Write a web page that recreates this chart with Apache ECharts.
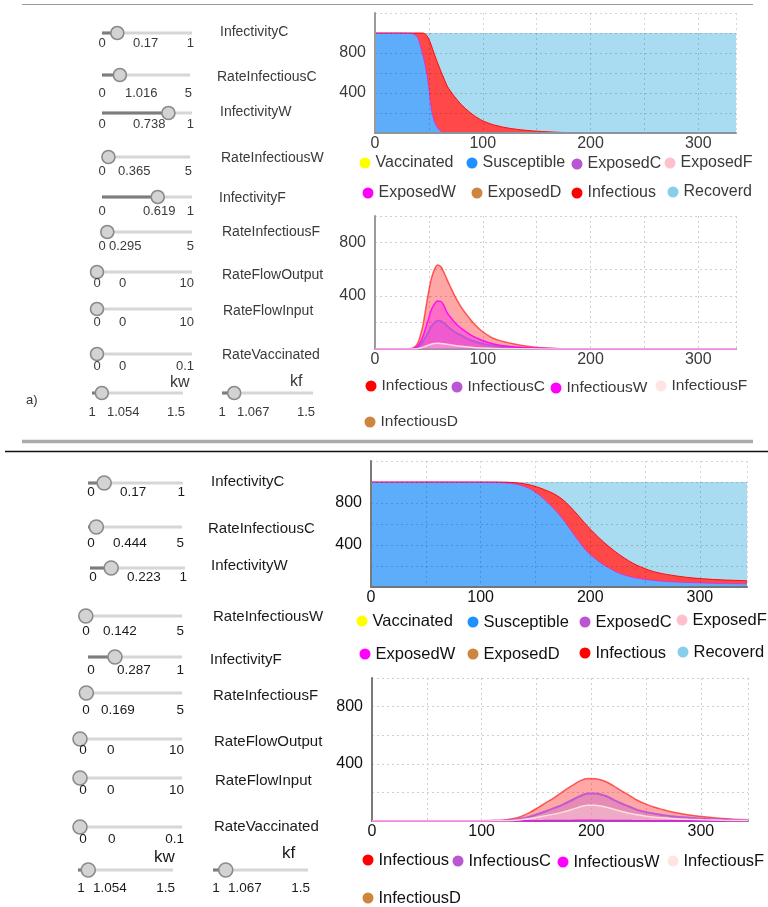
<!DOCTYPE html>
<html>
<head>
<meta charset="utf-8">
<script src="https://cdn.jsdelivr.net/npm/echarts@6/dist/echarts.min.js"></script>
<style>
html,body{margin:0;padding:0;background:#fff;}
#c{width:768px;height:907px;}
</style>
</head>
<body>
<div id="c"></div>
<script>
// ---------------- DATA ----------------
const sliderNames = ['InfectivityC','RateInfectiousC','InfectivityW','RateInfectiousW','InfectivityF','RateInfectiousF','RateFlowOutput','RateFlowInput','RateVaccinated','kw','kf'];
const sliderMin = [0,0,0,0,0,0,0,0,0,1,1];
const sliderMax = [1,5,1,5,1,5,10,10,0.1,1.5,1.5];
const sliderValueTop = [0.17,1.016,0.738,0.365,0.619,0.295,0,0,0,1.054,1.067];
const sliderValueBottom = [0.17,0.444,0.223,0.142,0.287,0.169,0,0,0,1.054,1.067];

const stateNames = ['Vaccinated','Susceptible','ExposedC','ExposedF','ExposedW','ExposedD','Infectious','Recoverd'];
const infNames = ['Infectious','InfectiousC','InfectiousW','InfectiousF','InfectiousD'];
const xTickLabels = [0,100,200,300];
const yTickLabels = [400,800];

// top panel (a)
const topDays = [0,20,30,34,38,40,42,44,46,48,50,52,55,58,61,64,67,70,74,80,89,98,110,126,145,166,180,200,250,300,335];
const topVaccinated = [0,0,0,0,0,0,0,0,0,0,0,0,0,0,0,0,0,0,0,0,0,0,0,0,0,0,0,0,0,0,0];
const topSusceptible = [1000,1000,999,995,975,945,875,795,705,595,445,255,117,52,20,8,5,4,3,3,2,2,2,1,1,1,1,1,1,1,1];
const topExposedC = [0,0,0,0,0,0,0,0,0,0,0,0,0,0,0,0,0,0,0,0,0,0,0,0,0,0,0,0,0,0,0];
const topExposedF = [0,0,0,0,0,0,0,0,0,0,0,0,0,0,0,0,0,0,0,0,0,0,0,0,0,0,0,0,0,0,0];
const topExposedW = [0,0,0,0,0,0,0,0,0,0,0,0,0,0,0,0,0,0,0,0,0,0,0,0,0,0,0,0,0,0,0];
const topExposedD = [0,0,0,0,0,0,0,0,0,0,0,0,0,0,0,0,0,0,0,0,0,0,0,0,0,0,0,0,0,0,0];
const topInfectiousBand = [0,0,1,5,25,55,125,205,290,380,493,630,673,653,602,537,465,416,359,282,196,131,80,44,21,8,3,1,0,0,0];
const topRecoverd = [0,0,0,0,0,0,0,0,5,25,62,115,210,295,378,455,530,580,638,715,802,867,918,955,978,991,996,998,999,999,999];

const topInfectious = [0,0,0,2,25,50,100,160,250,350,440,520,595,632,620,575,520,468,400,315,218,143,80,43,17,4,2,1,0,0,0];
const topInfectiousC = [0,0,0,1,7,14,28,50,75,105,135,165,195,212,210,195,172,152,128,102,66,43,24,11,4,1,0,0,0,0,0];
const topInfectiousW = [0,0,0,1,12,25,50,85,130,185,235,290,335,360,358,325,272,240,200,155,105,70,38,18,7,2,1,0,0,0,0];
const topInfectiousF = [0,0,0,0,2,4,8,12,18,24,30,36,41,43,42,39,35,31,26,20,13,8,4,2,1,0,0,0,0,0,0];
const topInfectiousD = [0,0,0,0,0,0,0,0,0,0,0,0,0,0,0,0,0,0,0,0,0,0,0,0,0,0,0,0,0,0,0];

// bottom panel
const bottomDays = [0,50,100,110,120,128,136,144,151,158,166,174,182,190,197,204,212,220,227,235,242,250,258,266,273,288,303,320,343];
const bottomVaccinated = [0,0,0,0,0,0,0,0,0,0,0,0,0,0,0,0,0,0,0,0,0,0,0,0,0,0,0,0,0];
const bottomSusceptible = [1000,1000,999,997,993,985,970,940,895,835,755,660,545,430,338,275,212,165,128,103,85,72,62,55,50,43,38,33,30];
const bottomExposedC = [0,0,0,0,0,0,0,0,0,0,0,0,0,0,0,0,0,0,0,0,0,0,0,0,0,0,0,0,0];
const bottomExposedF = [0,0,0,0,0,0,0,0,0,0,0,0,0,0,0,0,0,0,0,0,0,0,0,0,0,0,0,0,0];
const bottomExposedW = [0,0,0,0,0,0,0,0,0,0,0,0,0,0,0,0,0,0,0,0,0,0,0,0,0,0,0,0,0];
const bottomExposedD = [0,0,0,0,0,0,0,0,0,0,0,0,0,0,0,0,0,0,0,0,0,0,0,0,0,0,0,0,0];
const bottomInfectiousBand = [0,0,1,3,6,11,18,35,60,93,137,180,217,240,247,235,218,195,177,147,125,103,84,72,64,49,40,35,30];
const bottomRecoverd = [0,0,0,0,1,4,12,25,45,72,108,160,238,330,415,490,570,640,695,750,790,825,854,873,886,908,922,932,940];

const bottomInfectious = [0,0,1,3,6,15,32,60,92,125,162,205,245,282,297,296,280,248,214,178,145,118,96,79,64,44,30,18,8];
const bottomInfectiousC = [0,0,0,1,3,7,16,30,48,66,90,115,145,175,192,192,178,150,124,100,78,62,50,41,34,24,16,10,5];
const bottomInfectiousW = [0,0,0,0,0,1,1,2,2,3,3,4,4,5,5,5,4,4,3,3,2,2,2,1,1,1,1,0,0];
const bottomInfectiousF = [0,0,0,1,2,4,9,17,27,37,48,62,80,100,111,110,100,84,68,54,43,34,27,22,18,12,8,5,3];
const bottomInfectiousD = [0,0,0,0,0,0,0,0,0,0,0,0,0,0,0,0,0,0,0,0,0,0,0,0,0,0,0,0,0];

// ---------------- LAYOUT / STYLE ----------------
const FONT = '"Liberation Sans", Arial, sans-serif';
const colors = {
  Vaccinated:'#ffff00', Susceptible:'#1e90ff', ExposedC:'#ba55d3', ExposedF:'#ffc0cb',
  ExposedW:'#ff00ff', ExposedD:'#cd853f', Infectious:'#ff0000', Recoverd:'#87ceeb',
  InfectiousC:'#ba55d3', InfectiousW:'#ff00ff', InfectiousF:'#ffe4e1', InfectiousD:'#cd853f'
};
// area fills of the stacked chart (series colour at ~72% over white)
const stackFill = {
  Vaccinated:'#ffff47', Susceptible:'#5dadfb', Infectious:'#ff4848', Recoverd:'#a9dcf1'
};
// [x0, x1, trackY, labelY, valueLabelX, nameX, nameY]
const topSliderLayout = [
  [102,192,33,43,133,220,32],[102,190,75,93,125,217,77],[102,192,113,124,133,220,112],
  [102,190,157,171,118,221,158],[102,192,197,211,143,219,198],[102,192,232,246,109,222,232],
  [97,192,272,283,119,222,275],[97,192,309,322,119,223,311],[97,192,354,366,119,222,355],
  [92,183,393,412,107,170,383],[222,313,393,412,237,290,382]
];
const bottomSliderLayout = [
  [88,183,483,492,120,211,482],[88,182,527,543,113,208,529],[90,185,568,577,127,211,566],
  [83,182,616,631,103,213,617],[88,182,657,670,117,210,660],[83,182,693,710,101,213,696],
  [80,182,739,750,107,214,742],[80,182,778,790,107,215,781],[80,182,827,839,108,214,827],
  [78,173,870,888,93,154,857],[213,308,870,888,228,282,853]
];
const gridBoxes = [
  {left:375, top:13, width:361, height:120},
  {left:375, top:216, width:361, height:133},
  {left:371, top:461, width:376, height:126},
  {left:372, top:678, width:376, height:143}
];
const xMaxes = [335,335,343,343];
const yMaxes = [1200,1000,1200,1000];
const panelText = ['#3a3a3a','#3a3a3a','#111','#111'];
const legendPos = [
  {x:[365,472,577,670,368,477,577,673], y:[163,163,164,163,193,193,193,192], fs:16},
  {x:[371,457,556,661,370], y:[386,387,388,386,422], fs:15.5},
  {x:[362,473,585,682,365,473,585,683], y:[621,622,622,620,654,654,653,652], fs:16.5},
  {x:[368,458,563,673,368], y:[860,861,862,861,898], fs:16.5}
];

// ---------------- BUILD ----------------
function pairs(days, arr){ return days.map((d,i)=>[d, arr[i]]); }

const isStackGrid = [true,false,true,false];
const grids = gridBoxes.map(g=>Object.assign({containLabel:false, outerBoundsMode:'none'}, g));
const xAxes = gridBoxes.map((g,k)=>({
  gridIndex:k, type:'value', min:0, max:xMaxes[k], interval:50, z: isStackGrid[k] ? 5 : 0,
  axisLine:{show:true, onZero:false, lineStyle:{color:k<2?'#8c949c':'#6f767d', width:2}},
  axisTick:{show:false},
  axisLabel:{fontSize:16, color:panelText[k], fontFamily:FONT, margin:3,
    formatter:v=> xTickLabels.indexOf(v)>=0 ? String(v) : ''},
  splitLine:{show:true, lineStyle:{color: isStackGrid[k] ? 'rgba(0,0,0,0.16)' : '#cfcfcf', type:[2,3], width:1}}
}));
const yAxes = gridBoxes.map((g,k)=>({
  gridIndex:k, type:'value', min:0, max:yMaxes[k], interval:200, z: isStackGrid[k] ? 5 : 0,
  axisLine:{show:true, lineStyle:{color:k<2?'#9a9a9a':'#7a7a7a', width:2}},
  axisTick:{show:false},
  axisLabel:{fontSize:16, color:panelText[k], fontFamily:FONT, margin:9,
    formatter:v=> yTickLabels.indexOf(v)>=0 ? String(v) : ''},
  splitLine:{show:true, lineStyle:{color: isStackGrid[k] ? 'rgba(0,0,0,0.16)' : '#cfcfcf', type:[2,3], width:1}}
}));

// stacked chart: cumulative layers drawn from the top layer down
function stackedSeries(k, days, arrays){
  const cum = [];
  let run = days.map(()=>0);
  arrays.forEach(a=>{ run = run.map((r,i)=>r + a[i]); cum.push(run.slice()); });
  const widths = {ExposedW:1, Infectious:1};
  const lineOpacity = {ExposedW:0.55, Infectious:0.9};
  const out = [];
  for (let i = stateNames.length - 1; i >= 0; i--) {
    const n = stateNames[i];
    const fill = stackFill[n];
    out.push({
      type:'line', name:n, xAxisIndex:k, yAxisIndex:k,
      data:pairs(days, cum[i]), symbol:'none', showSymbol:false, smooth:0.35,
      itemStyle:{color:colors[n]},
      lineStyle:{color:colors[n], width:widths[n]||0, opacity:lineOpacity[n]||1},
      areaStyle: fill ? {color:fill, opacity:1} : {color:colors[n], opacity:0},
      z: n==='ExposedW' ? 3 : 2
    });
  }
  return out;
}
function overlaySeries(k, days, arrays){
  const widths = {Infectious:1.5, InfectiousC:2, InfectiousW:1.5, InfectiousF:1.5, InfectiousD:0};
  return infNames.map((n,i)=>({
    type:'line', name:n, xAxisIndex:k, yAxisIndex:k,
    data:pairs(days, arrays[i]), symbol:'none', showSymbol:false, smooth:0.35,
    itemStyle:{color:colors[n]},
    lineStyle:{color:colors[n], width:widths[n], opacity:n==='Infectious'?0.6:0.9},
    areaStyle:{color:colors[n], opacity:0.35}
  }));
}

const series = [].concat(
  stackedSeries(0, topDays, [topVaccinated, topSusceptible, topExposedC, topExposedF, topExposedW, topExposedD, topInfectiousBand, topRecoverd]),
  overlaySeries(1, topDays, [topInfectious, topInfectiousC, topInfectiousW, topInfectiousF, topInfectiousD]),
  stackedSeries(2, bottomDays, [bottomVaccinated, bottomSusceptible, bottomExposedC, bottomExposedF, bottomExposedW, bottomExposedD, bottomInfectiousBand, bottomRecoverd]),
  overlaySeries(3, bottomDays, [bottomInfectious, bottomInfectiousC, bottomInfectiousW, bottomInfectiousF, bottomInfectiousD])
);

const legends = [];
[stateNames, infNames, stateNames, infNames].forEach((names,k)=>{
  const lp = legendPos[k];
  names.forEach((n,i)=>{
    legends.push({
      show:true, data:[n], left:lp.x[i]-5.5, top:lp.y[i]-10, padding:0,
      icon:'circle', itemWidth:11, itemHeight:11, itemGap:0, selectedMode:false,
      itemStyle:{borderWidth:0},
      textStyle:{fontSize:lp.fs, color:panelText[k], fontFamily:FONT, lineHeight:20}
    });
  });
});

function txt(t, x, y, align, font, fill){
  return {type:'text', x:x, y:y, silent:true,
    style:{text:t, font:font, fill:fill, align:align, verticalAlign:'middle', textAlign:align, textVerticalAlign:'middle'}};
}
function sliderGraphics(values, layout, st){
  const els = [];
  values.forEach((v,i)=>{
    const L = layout[i];
    const x0=L[0], x1=L[1], y=L[2], ly=L[3], vx=L[4], nx=L[5], ny=L[6];
    const hx = x0 + (v - sliderMin[i])/(sliderMax[i]-sliderMin[i])*(x1-x0);
    els.push({type:'line', silent:true, shape:{x1:x0,y1:y,x2:x1,y2:y}, style:{stroke:'#d6d6d6', lineWidth:3}});
    els.push({type:'line', silent:true, shape:{x1:x0,y1:y,x2:hx,y2:y}, style:{stroke:'#7d7d7d', lineWidth:3}});
    els.push({type:'circle', silent:true, shape:{cx:hx,cy:y,r:st.r}, style:{fill:'#d3d3d3', stroke:'#8a8a8a', lineWidth:1.6}});
    els.push(txt(String(sliderMin[i]), x0+st.minOff, ly, 'center', st.numFont, st.color));
    els.push(txt(String(v), vx, ly, 'left', st.numFont, st.color));
    els.push(txt(String(sliderMax[i]), x1+2, ly, 'right', st.numFont, st.color));
    const isK = (sliderNames[i]==='kw' || sliderNames[i]==='kf');
    els.push(txt(sliderNames[i], nx, ny, 'left', isK ? st.kFont : st.nameFont, st.color));
  });
  return els;
}

const graphicEls = [].concat(
  [
    {type:'line', silent:true, shape:{x1:22,y1:4.5,x2:753,y2:4.5}, style:{stroke:'#9a9a9a', lineWidth:1.2}},
    {type:'line', silent:true, shape:{x1:22,y1:441.5,x2:753,y2:441.5}, style:{stroke:'#ababab', lineWidth:3.5}},
    {type:'line', silent:true, shape:{x1:5,y1:451.5,x2:768,y2:451.5}, style:{stroke:'#111', lineWidth:1.5}},
    txt('a)', 26, 400, 'left', '13px '+FONT, '#333')
  ],
  sliderGraphics(sliderValueTop, topSliderLayout, {r:6.5, color:'#3a3a3a', minOff:0, numFont:'13px '+FONT, nameFont:'14px '+FONT, kFont:'16px '+FONT}),
  sliderGraphics(sliderValueBottom, bottomSliderLayout, {r:7, color:'#1a1a1a', minOff:3, numFont:'13.5px '+FONT, nameFont:'15px '+FONT, kFont:'17px '+FONT})
);

const chart = echarts.init(document.getElementById('c'), null, {renderer:'canvas'});
chart.setOption({
  animation:false,
  backgroundColor:'#fff',
  textStyle:{fontFamily:FONT},
  tooltip:{show:false},
  grid:grids, xAxis:xAxes, yAxis:yAxes,
  legend:legends,
  series:series,
  graphic:{elements:graphicEls}
});
</script>
</body>
</html>
